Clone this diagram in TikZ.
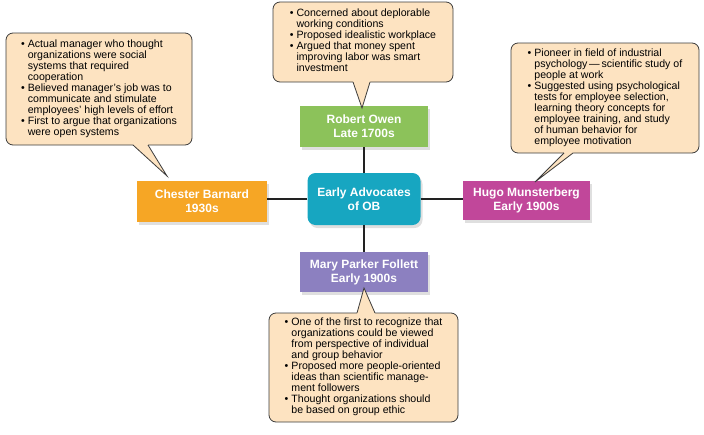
\documentclass[tikz,border=0pt]{standalone}
\usepackage{fontspec}
\setmainfont{Liberation Sans}
\usetikzlibrary{shadows}
\definecolor{barnardorange}{HTML}{F6A625}
\definecolor{owengreen}{HTML}{8CC25A}
\definecolor{obteal}{HTML}{17A6C1}
\definecolor{hugomagenta}{HTML}{C1479A}
\definecolor{marypurple}{HTML}{8C80C0}
\definecolor{notefill}{HTML}{FDE3C1}
\definecolor{notegray}{HTML}{3C3C3C}
\definecolor{linkgray}{HTML}{222222}
\tikzset{
  person/.style={text=white, font=\fontsize{12}{14}\selectfont\bfseries, align=center, inner sep=0pt,
    drop shadow={shadow xshift=2pt, shadow yshift=-3pt, opacity=0.25}},
  note/.style={draw=notegray, fill=notefill, rounded corners=7pt, line width=0.8pt, inner sep=0pt,
    font=\fontsize{10.6}{11}\selectfont, align=left},
  notedraw/.style={draw=notegray, line width=0.8pt},
  link/.style={draw=linkgray, line width=1.4pt},
}
\newcommand{\itm}{\textbullet}
\begin{document}
\begin{tikzpicture}[x=1pt,y=-1pt]
    \useasboundingbox (0,0) rectangle (704,434);

    \node (advocates) at (364,199) [person, fill=obteal, rounded corners=8pt, minimum width=113, minimum height=52]{Early Advocates\\of OB};
    \node (owen) at (364,126.5) [person, fill=owengreen, minimum width=128, minimum height=41]{Robert Owen\\Late 1700s};
    \node (barnard) at (202,201.5) [person, fill=barnardorange, minimum width=130, minimum height=41]{Chester Barnard\\1930s};
    \node (munster) at (526.5,200.5) [person, fill=hugomagenta, minimum width=127, minimum height=39]{Hugo Munsterberg\\Early 1900s};
    \node (follett) at (364,272) [person, fill=marypurple, minimum width=128, minimum height=40]{Mary Parker Follett\\Early 1900s};

     \draw[link] (advocates.north) -- (owen.south);
     \draw[link] (advocates.south) -- (follett.north);
     \draw[link] (advocates.west) -- (advocates.west -| barnard.east);
     \draw[link] (advocates.east) -- (advocates.east -| munster.west);

    \node (barnardNote) at (99,89) [note, minimum width=186, minimum height=112]{%
      \begin{tabular}{@{}l@{\hspace{3pt}}l@{}}
      \itm & Actual manager who thought\\
           & organizations were social\\
           & systems that required\\
           & cooperation\\
      \itm & Believed manager’s job was to\\
           & communicate and stimulate\\
           & employees’ high levels of effort\\
      \itm & First to argue that organizations\\
           & were open systems
      \end{tabular}};
    \node (owenNote) at (363,42) [note, minimum width=180, minimum height=80]{%
      \begin{tabular}{@{}l@{\hspace{3pt}}l@{}}
      \itm & Concerned about deplorable\\
           & working conditions\\
      \itm & Proposed idealistic workplace\\
      \itm & Argued that money spent\\
           & improving labor was smart\\
           & investment
      \end{tabular}};
    \node (munsterNote) at (605,98) [note, minimum width=188, minimum height=110]{%
      \begin{tabular}{@{}l@{\hspace{3pt}}l@{}}
      \itm & Pioneer in field of industrial\\
           & psychology\,—\,scientific study of\\
           & people at work\\
      \itm & Suggested using psychological\\
           & tests for employee selection,\\
           & learning theory concepts for\\
           & employee training, and study\\
           & of human behavior for\\
           & employee motivation
      \end{tabular}};
    \node (follettNote) at (363.5,367.5) [note, minimum width=189, minimum height=109]{%
      \begin{tabular}{@{}l@{\hspace{3pt}}l@{}}
      \itm & One of the first to recognize that\\
           & organizations could be viewed\\
           & from perspective of individual\\
           & and group behavior\\
      \itm & Proposed more people-oriented\\
           & ideas than scientific manage-\\
           & ment followers\\
      \itm & Thought organizations should\\
           & be based on group ethic
      \end{tabular}};

    % pointers
    \coordinate (barnardTip) at (167,176);
    \fill[notefill] (133,140) -- (133,145.5) -- (barnardTip) -- (148,145.5) -- (148,140) -- cycle;
    \draw[notedraw] (133,145) -- (barnardTip) -- (148,145);

    \coordinate (owenTip) at (362,108);
    \fill[notefill] (353,78) -- (353,82.5) -- (owenTip) -- (370,82.5) -- (370,78) -- cycle;
    \draw[notedraw] (353,82) -- (owenTip) -- (370,82);

    \coordinate (munsterTip) at (535,182);
    \fill[notefill] (564,149) -- (564,153.5) -- (munsterTip) -- (573,153.5) -- (573,149) -- cycle;
    \draw[notedraw] (564,153) -- (munsterTip) -- (573,153);

    \coordinate (follettTip) at (364,288);
    \fill[notefill] (357,317) -- (357,312.5) -- (follettTip) -- (375,312.5) -- (375,317) -- cycle;
    \draw[notedraw] (357,313) -- (follettTip) -- (375,313);
\end{tikzpicture}
\end{document}
